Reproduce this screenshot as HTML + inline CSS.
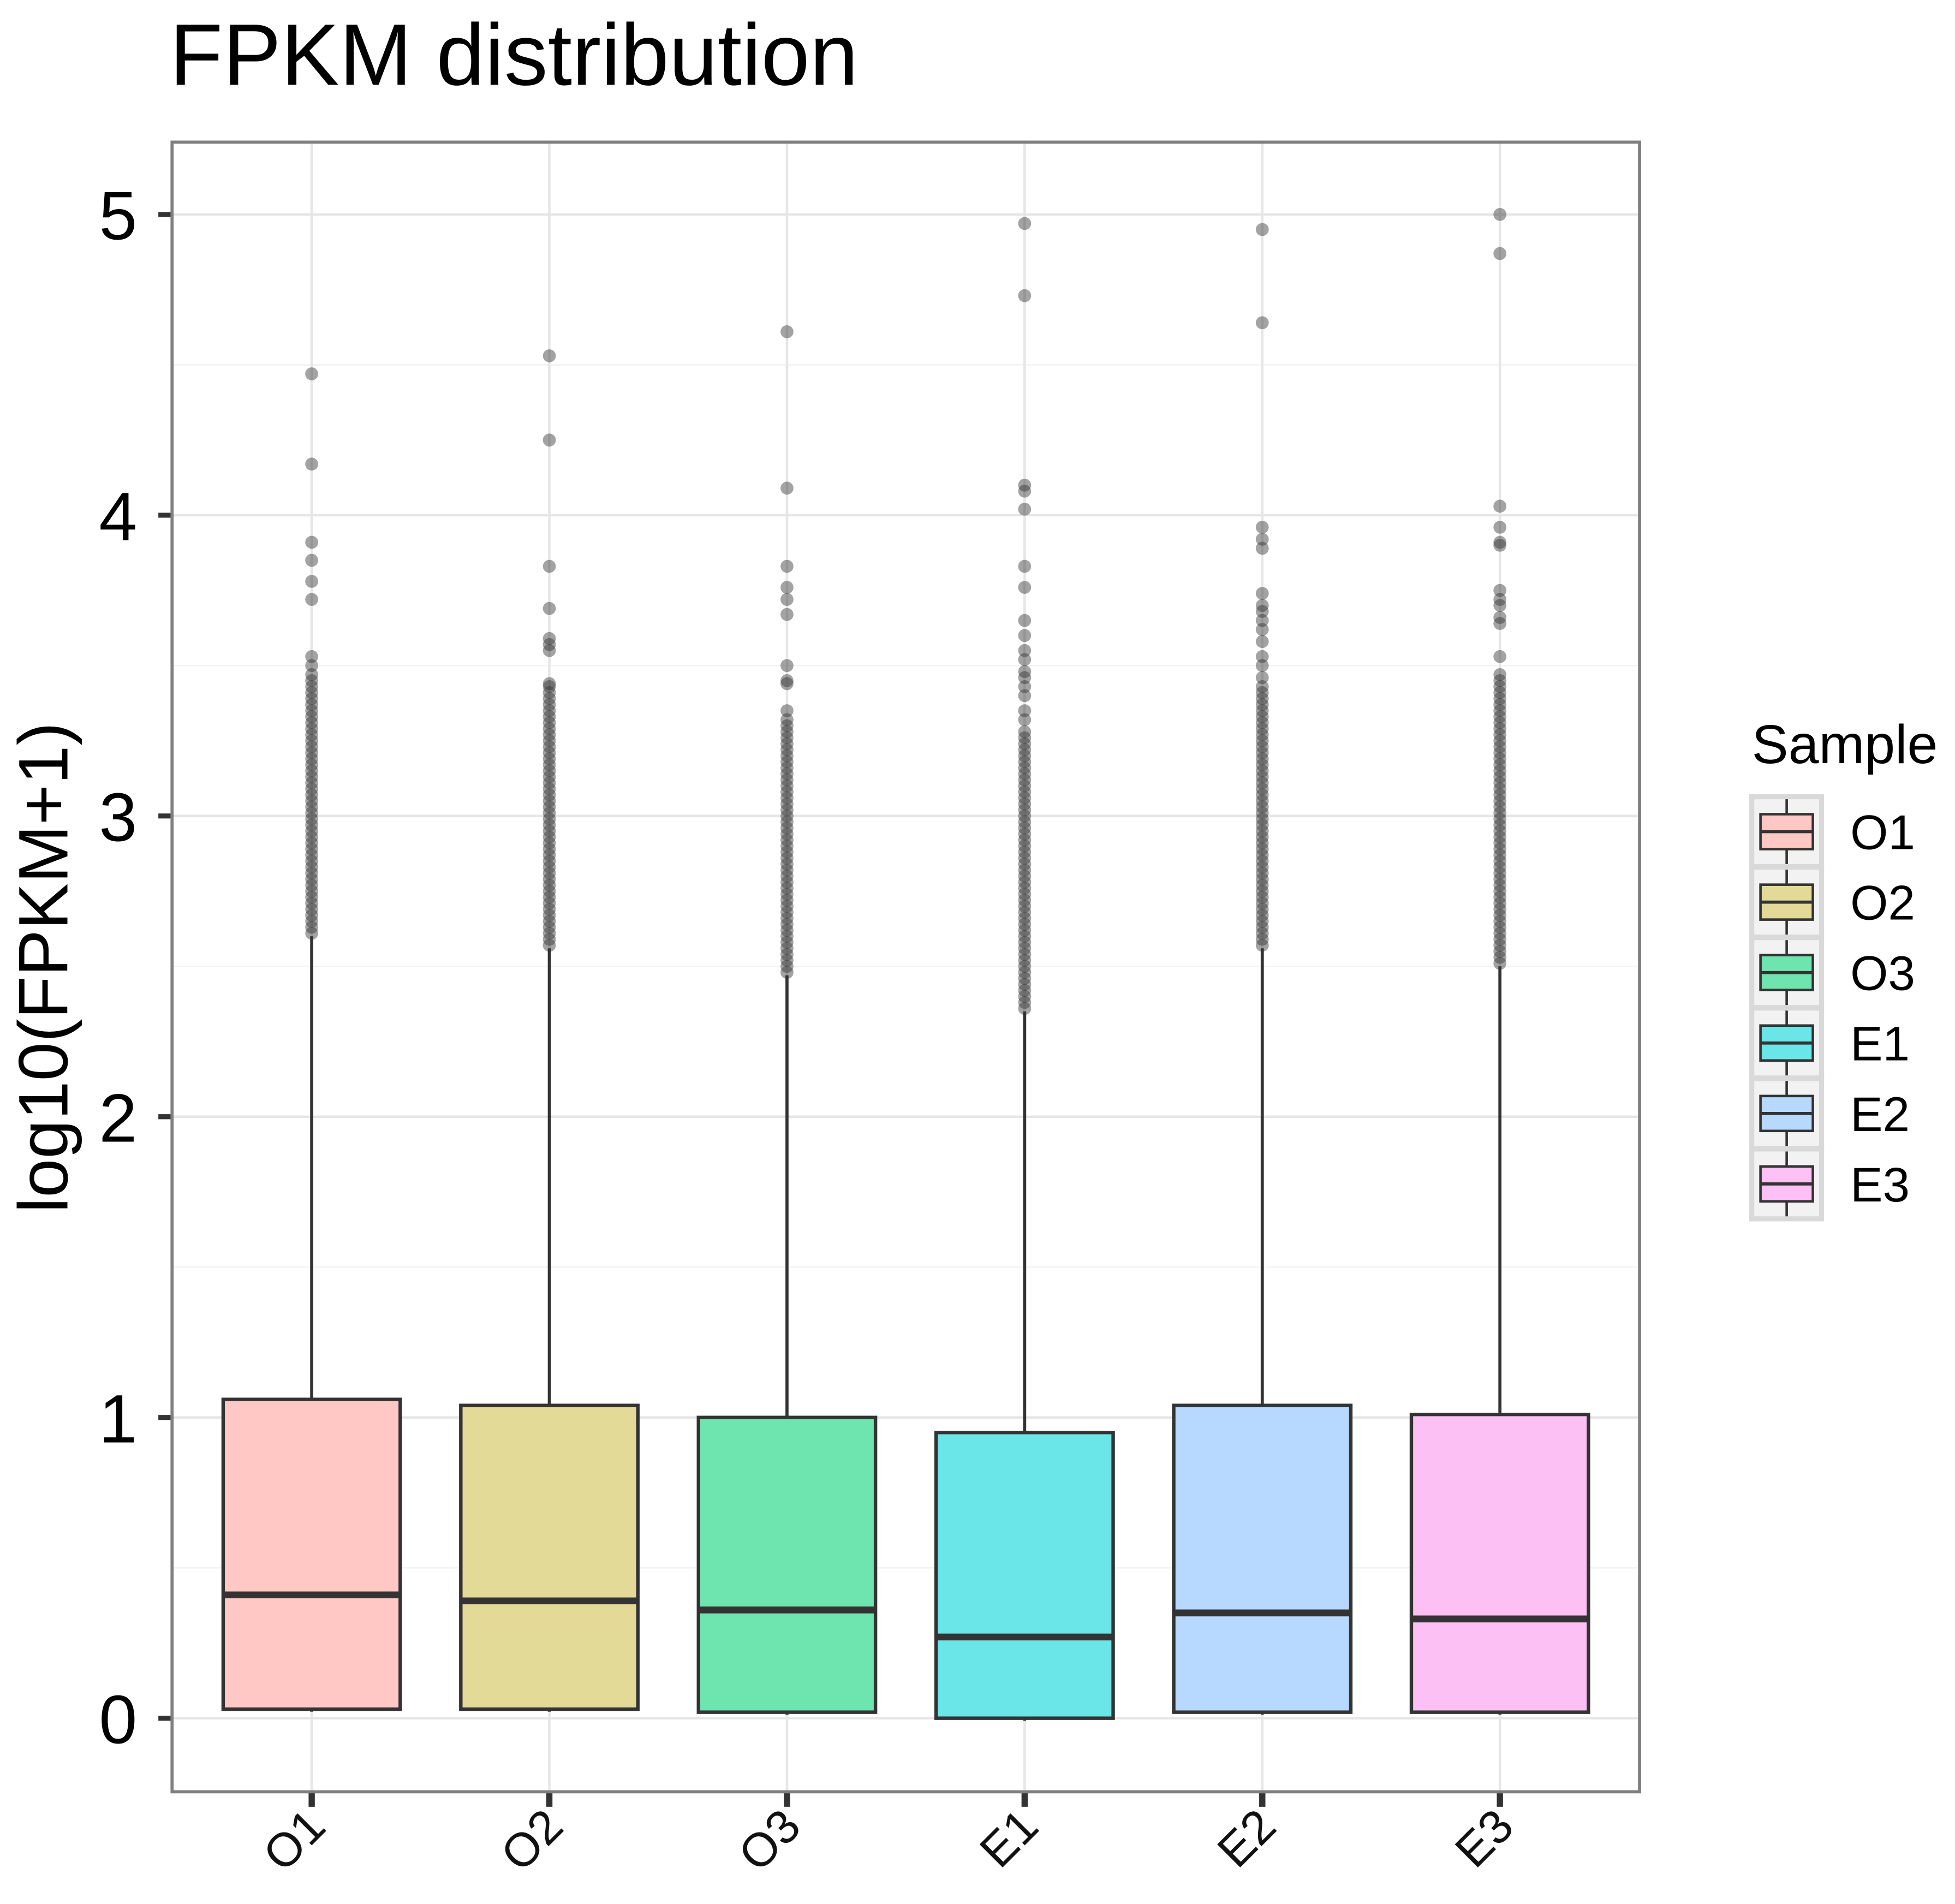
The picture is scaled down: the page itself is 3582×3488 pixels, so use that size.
<!DOCTYPE html>
<html><head><meta charset="utf-8"><style>
html,body{margin:0;padding:0;background:#fff}
svg{display:block;font-family:"Liberation Sans",Arial,sans-serif}
</style></head><body>
<svg id="chart" width="3582" height="3488" viewBox="0 0 1568 1527" preserveAspectRatio="none" xmlns="http://www.w3.org/2000/svg">
<rect x="0" y="0" width="1568" height="1527" fill="#fff"/>
<text x="136" y="68" font-size="70">FPKM distribution</text>
<text transform="translate(54,776) rotate(-90)" text-anchor="middle" font-size="56">log10(FPKM+1)</text>
<g id="plot"></g>
<g id="legend"></g>
</svg>
<script>
const categories = ["O1","O2","O3","E1","E2","E3"];
const colors = ["#FFC8C5","#E3DA97","#6EE4AF","#6AE5E8","#B8D9FF","#FCC0F5"];
const lowerWhisker = [0.03,0.03,0.02,0.0,0.02,0.02];
const q1 = [0.03,0.03,0.02,0.0,0.02,0.02];
const median = [0.41,0.39,0.36,0.27,0.35,0.33];
const q3 = [1.06,1.04,1.0,0.95,1.04,1.01];
const upperWhisker = [2.6,2.56,2.47,2.35,2.56,2.5];
const outliersO1 = [2.61,2.63,2.65,2.67,2.69,2.71,2.73,2.75,2.77,2.79,2.81,2.83,2.85,2.87,2.89,2.91,2.93,2.95,2.97,2.99,3.01,3.03,3.05,3.07,3.09,3.11,3.13,3.15,3.17,3.19,3.21,3.23,3.25,3.27,3.29,3.31,3.33,3.35,3.37,3.39,3.41,3.43,3.45,3.47,3.5,3.53,3.72,3.78,3.85,3.91,4.17,4.47];
const outliersO2 = [2.57,2.59,2.61,2.63,2.65,2.67,2.69,2.71,2.73,2.75,2.77,2.79,2.81,2.83,2.85,2.87,2.89,2.91,2.93,2.95,2.97,2.99,3.01,3.03,3.05,3.07,3.09,3.11,3.13,3.15,3.17,3.19,3.21,3.23,3.25,3.27,3.29,3.31,3.33,3.35,3.37,3.39,3.41,3.43,3.44,3.55,3.57,3.59,3.69,3.83,4.25,4.53];
const outliersO3 = [2.48,2.5,2.52,2.54,2.56,2.58,2.6,2.62,2.64,2.66,2.68,2.7,2.72,2.74,2.76,2.78,2.8,2.82,2.84,2.86,2.88,2.9,2.92,2.94,2.96,2.98,3.0,3.02,3.04,3.06,3.08,3.1,3.12,3.14,3.16,3.18,3.2,3.22,3.24,3.26,3.28,3.3,3.32,3.35,3.44,3.45,3.5,3.67,3.72,3.76,3.83,4.09,4.61];
const outliersE1 = [2.36,2.38,2.4,2.42,2.44,2.46,2.48,2.5,2.52,2.54,2.56,2.58,2.6,2.62,2.64,2.66,2.68,2.7,2.72,2.74,2.76,2.78,2.8,2.82,2.84,2.86,2.88,2.9,2.92,2.94,2.96,2.98,3.0,3.02,3.04,3.06,3.08,3.1,3.12,3.14,3.16,3.18,3.2,3.22,3.24,3.26,3.28,3.32,3.35,3.4,3.43,3.46,3.48,3.52,3.55,3.6,3.65,3.76,3.83,4.02,4.08,4.1,4.73,4.97];
const outliersE2 = [2.57,2.59,2.61,2.63,2.65,2.67,2.69,2.71,2.73,2.75,2.77,2.79,2.81,2.83,2.85,2.87,2.89,2.91,2.93,2.95,2.97,2.99,3.01,3.03,3.05,3.07,3.09,3.11,3.13,3.15,3.17,3.19,3.21,3.23,3.25,3.27,3.29,3.31,3.33,3.35,3.37,3.39,3.41,3.43,3.46,3.5,3.53,3.58,3.62,3.65,3.68,3.7,3.74,3.89,3.92,3.96,4.64,4.95];
const outliersE3 = [2.51,2.53,2.55,2.57,2.59,2.61,2.63,2.65,2.67,2.69,2.71,2.73,2.75,2.77,2.79,2.81,2.83,2.85,2.87,2.89,2.91,2.93,2.95,2.97,2.99,3.01,3.03,3.05,3.07,3.09,3.11,3.13,3.15,3.17,3.19,3.21,3.23,3.25,3.27,3.29,3.31,3.33,3.35,3.37,3.39,3.41,3.43,3.45,3.47,3.53,3.64,3.66,3.7,3.72,3.75,3.9,3.91,3.96,4.03,4.87,5.0];
const outliers = [outliersO1,outliersO2,outliersO3,outliersE1,outliersE2,outliersE3];
const yTicks = [0,1,2,3,4,5];
const yMinor = [0.5,1.5,2.5,3.5,4.5];

const NS="http://www.w3.org/2000/svg";
const P={l:138,r:1315,t:114,b:1437};
const y0=1378, yPer=241.2;
function yScale(v){return y0 - v*yPer;}
function xScale(i){return 250 + i*190.6;}
const BW=142;
const plot=document.getElementById('plot');
function mk(tag,attrs,parent){const e=document.createElementNS(NS,tag);for(const k in attrs)e.setAttribute(k,attrs[k]);(parent||plot).appendChild(e);return e;}

let e=mk('rect',{x:P.l,y:P.t,width:P.r-P.l,height:P.b-P.t,fill:'#fff'});


yMinor.forEach(v=>{const g=mk('line',{x1:P.l,x2:P.r,y1:yScale(v),y2:yScale(v),stroke:'#f3f3f3','stroke-width':1.2});

});
yTicks.forEach(v=>{const g=mk('line',{x1:P.l,x2:P.r,y1:yScale(v),y2:yScale(v),stroke:'#e6e6e6','stroke-width':2});


const t=mk('line',{x1:127,x2:P.l,y1:yScale(v),y2:yScale(v),stroke:'#333','stroke-width':4});


const l=mk('text',{x:110,y:yScale(v)+20,'text-anchor':'end','font-size':55,fill:'#000'});
l.textContent=v;

});
categories.forEach((c,i)=>{const g=mk('line',{x1:xScale(i),x2:xScale(i),y1:P.t,y2:P.b,stroke:'#e6e6e6','stroke-width':2});

});

categories.forEach((c,i)=>{
  const x=xScale(i);
  const grp=mk('g',{});
  
  
  let w=mk('line',{x1:x,x2:x,y1:yScale(upperWhisker[i]),y2:yScale(q3[i]),stroke:'#333','stroke-width':2.5},grp);
  
  
  let w2=mk('line',{x1:x,x2:x,y1:yScale(q1[i]),y2:yScale(lowerWhisker[i])+2,stroke:'#333','stroke-width':2.5},grp);
  
  
  let r=mk('rect',{x:x-BW/2,y:yScale(q3[i]),width:BW,height:yScale(q1[i])-yScale(q3[i]),fill:colors[i],stroke:'#333','stroke-width':2.8},grp);
  
  
  let m=mk('line',{x1:x-BW/2,x2:x+BW/2,y1:yScale(median[i]),y2:yScale(median[i]),stroke:'#333','stroke-width':5.5},grp);
  
  
  outliers[i].forEach(v=>{const p=mk('circle',{cx:x,cy:yScale(v),r:5.2,fill:'#333','fill-opacity':0.45},grp);
    
    });
  const t=mk('line',{x1:x,x2:x,y1:P.b,y2:P.b+12,stroke:'#333','stroke-width':5});
  
  
  const l=mk('text',{x:0,y:0,'text-anchor':'end','font-size':38,fill:'#111',transform:`translate(${x+13},${P.b+30}) rotate(-45)`});
  l.textContent=c;
  
  
});
let bd=mk('rect',{x:P.l,y:P.t,width:P.r-P.l,height:P.b-P.t,fill:'none',stroke:'#7f7f7f','stroke-width':2.5});



const leg=document.getElementById('legend');
let lt=mk('text',{x:1405,y:612,'font-size':44,fill:'#000'},leg);
lt.textContent='Sample';


categories.forEach((c,i)=>{
  const cy=667+i*56.5;
  const g=mk('g',{},leg);
  
  
  mk('rect',{x:1405,y:cy-28,width:56,height:56,fill:'#f2f2f2',stroke:'#d9d9d9','stroke-width':4},g);
  mk('line',{x1:1433,x2:1433,y1:cy-26,y2:cy+26,stroke:'#333','stroke-width':2},g);
  mk('rect',{x:1412,y:cy-14,width:42,height:28,fill:colors[i],stroke:'#333','stroke-width':2},g);
  mk('line',{x1:1412,x2:1454,y1:cy,y2:cy,stroke:'#333','stroke-width':2.5},g);
  const t=mk('text',{x:1484,y:cy+14,'font-size':39,fill:'#000'},g);
  t.textContent=c;
});
</script>
</body></html>
